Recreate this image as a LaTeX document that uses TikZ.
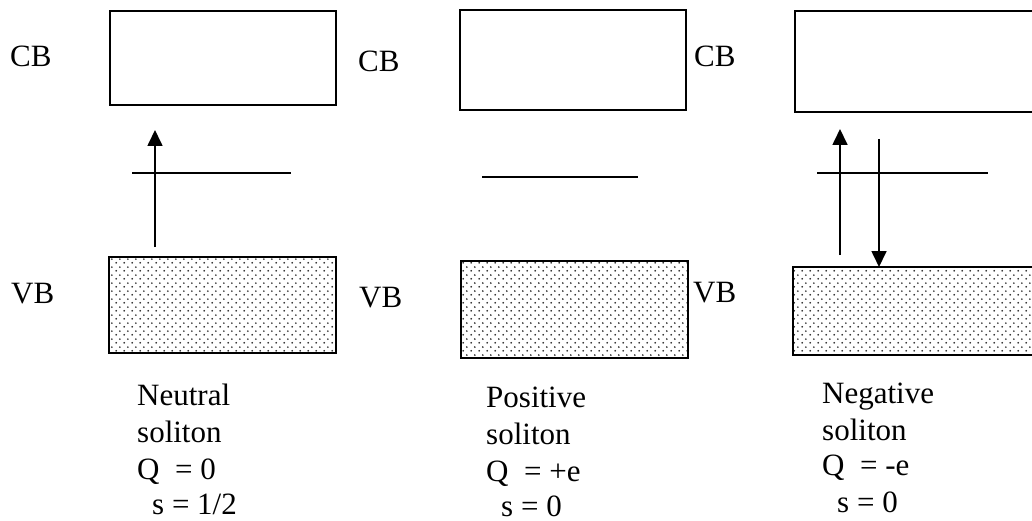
\documentclass[tikz,border=0pt]{standalone}
\usepackage{fontspec}
\setmainfont{Liberation Serif}
\usetikzlibrary{patterns.meta,arrows.meta}

% staggered dot fill for the valence bands
\tikzdeclarepattern{
  name=banddots, type=uncolored,
  bounding box={(0pt,0pt) and (7.7pt,7.7pt)},
  tile size={(7.7pt,7.7pt)},
  code={
    \fill (1.2pt,1.2pt) circle (1pt);
    \fill (5.05pt,5.05pt) circle (1pt);
  }
}

\tikzset{
  band/.style={draw=black, line width=2pt},
  valence/.style={band, pattern={banddots}, pattern color=black!85},
  level/.style={line width=1.7pt},
  trans/.style={line width=1.7pt, -{Triangle[length=16pt,width=15pt]}},
  lbl/.style={font=\fontsize{31}{36}\selectfont, anchor=base west, inner sep=0pt},
}

\begin{document}
\begin{tikzpicture}[x=1pt,y=-1pt]
\useasboundingbox (0,0) rectangle (1032,521);

% ---------- neutral soliton ----------
\draw[band] (110,11) rectangle (336,105);
\draw[valence] (109,257) rectangle (336,353);
\coordinate (n-l0) at (132,173);
\coordinate (n-l1) at (291,173);
\draw[level] (n-l0) -- (n-l1);
\coordinate (n-a0) at (155,247);
\coordinate (n-a1) at (155,130);
\draw[trans] (n-a0) -- (n-a1);
\node[lbl] (cb1) at (10,67) {CB};
\node[lbl] (vb1) at (11,303) {VB};
\node[lbl] (t1a) at (137,405) {Neutral};
\node[lbl] (t1b) at (137,442) {soliton};
\node[lbl] (t1c) at (137,479) {Q\ \ = 0};
\node[lbl] (t1d) at (152,514) {s = 1/2};

% ---------- positive soliton ----------
\draw[band] (460,10) rectangle (686,110);
\draw[valence] (461,261) rectangle (688,358);
\coordinate (p-l0) at (482,177);
\coordinate (p-l1) at (638,177);
\draw[level] (p-l0) -- (p-l1);
\node[lbl] (cb2) at (358,72) {CB};
\node[lbl] (vb2) at (359,307) {VB};
\node[lbl] (t2a) at (486,407) {Positive};
\node[lbl] (t2b) at (486,444) {soliton};
\node[lbl] (t2c) at (486,481) {Q\ \ = +e};
\node[lbl] (t2d) at (501,516) {s = 0};

% ---------- negative soliton ----------
\draw[band] (795,11) rectangle (1040,112);
\draw[valence] (793,267) rectangle (1040,355);
\coordinate (m-l0) at (817,173);
\coordinate (m-l1) at (988,173);
\draw[level] (m-l0) -- (m-l1);
\coordinate (m-u0) at (840,255);
\coordinate (m-u1) at (840,129);
\draw[trans] (m-u0) -- (m-u1);
\coordinate (m-d0) at (879,139);
\coordinate (m-d1) at (879,267);
\draw[trans] (m-d0) -- (m-d1);
\node[lbl] (cb3) at (694,67) {CB};
\node[lbl] (vb3) at (693,302) {VB};
\node[lbl] (t3a) at (822,403) {Negative};
\node[lbl] (t3b) at (822,440) {soliton};
\node[lbl] (t3c) at (822,475) {Q\ \ = -e};
\node[lbl] (t3d) at (837,512) {s = 0};
\end{tikzpicture}
\end{document}
